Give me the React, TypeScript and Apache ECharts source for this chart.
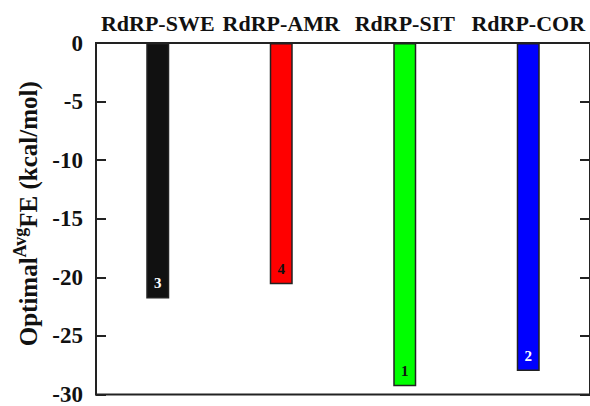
import React, { useEffect, useRef } from "react";
import * as echarts from "echarts";

const categories = ["RdRP-SWE", "RdRP-AMR", "RdRP-SIT", "RdRP-COR"];
const values = [-21.8, -20.6, -29.3, -28.0];
const ranks = ["3", "4", "1", "2"];
const barColors = ["#111111", "#ff0000", "#00ff00", "#0000ff"];
const labelColors = ["#ffffff", "#111111", "#111111", "#ffffff"];

const FONT = "'Liberation Serif', 'Times New Roman', serif";

export default function App() {
  const ref = useRef<HTMLDivElement>(null);
  useEffect(() => {
    if (!ref.current) return;
    const chart = echarts.init(ref.current, undefined, { renderer: "svg" });
    chart.setOption({
      animation: false,
      backgroundColor: "#ffffff",
      grid: {
        left: 96,
        right: -7,
        top: 43,
        bottom: 10,
        show: true,
        borderColor: "#222",
        borderWidth: 2,
        backgroundColor: "transparent",
      },
      xAxis: {
        type: "category",
        position: "top",
        data: categories,
        axisLine: { show: true, lineStyle: { color: "#222", width: 2 } },
        axisTick: { show: false },
        axisLabel: {
          interval: 0,
          hideOverlap: false,
          color: "#111",
          fontFamily: FONT,
          fontWeight: "bold",
          fontSize: 22,
          margin: 9,
        },
        splitLine: { show: false },
      },
      yAxis: [
        {
          type: "value",
          min: -30,
          max: 0,
          interval: 5,
          position: "left",
          name: "{a|Optimal}{s|Avg}{a|FE (kcal/mol)}",
          nameLocation: "middle",
          nameGap: 47,
          nameRotate: 90,
          nameTextStyle: {
            padding: [0, 0, 0, 10],
            rich: {
              a: { fontFamily: FONT, fontWeight: "bold", fontSize: 25, color: "#111", verticalAlign: "bottom", lineHeight: 30 },
              s: { fontFamily: FONT, fontWeight: "bold", fontSize: 18, color: "#111", verticalAlign: "top", lineHeight: 30 },
            },
          },
          axisLine: { show: true, lineStyle: { color: "#222", width: 2 } },
          axisTick: { show: true, inside: true, length: 10, lineStyle: { color: "#222", width: 2 } },
          axisLabel: {
            color: "#111",
            fontFamily: FONT,
            fontWeight: "bold",
            fontSize: 23,
            margin: 13,
          },
          splitLine: { show: false },
        },
        {
          type: "value",
          min: -30,
          max: 0,
          interval: 5,
          position: "right",
          axisLine: { show: true, lineStyle: { color: "#222", width: 2 } },
          axisTick: { show: true, inside: true, length: 10, lineStyle: { color: "#222", width: 2 } },
          axisLabel: { show: false },
          splitLine: { show: false },
        },
      ],
      series: [
        {
          type: "bar",
          barWidth: 23,
          data: values.map((v, i) => ({
            value: v,
            itemStyle: { color: barColors[i], borderColor: "#222", borderWidth: 1.5 },
            label: {
              show: true,
              position: "insideBottom",
              distance: 8,
              formatter: ranks[i],
              color: labelColors[i],
              fontFamily: FONT,
              fontWeight: "bold",
              fontSize: 15,
            },
          })),
        },
      ],
    });
    return () => chart.dispose();
  }, []);
  return <div ref={ref} style={{ width: 590, height: 406, position: "absolute", left: 0, top: 0 }} />;
}
